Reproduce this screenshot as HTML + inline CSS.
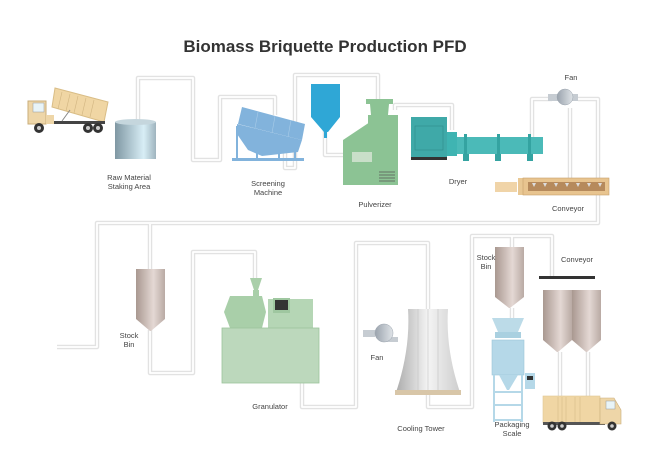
<!DOCTYPE html>
<html><head><meta charset="utf-8"><style>
html,body{margin:0;padding:0;background:#fff}
svg{display:block}
text{font-family:"Liberation Sans",sans-serif;fill:#444;font-size:7.5px}
</style></head><body>
<svg width="650" height="459" viewBox="0 0 650 459" xmlns="http://www.w3.org/2000/svg">
<defs>
<linearGradient id="tank" x1="0" x2="1"><stop offset="0" stop-color="#7f97a3"/><stop offset="0.7" stop-color="#d8eef6"/><stop offset="1" stop-color="#9fb4be"/></linearGradient>
<linearGradient id="bin" x1="0" x2="1"><stop offset="0" stop-color="#a99890"/><stop offset="0.6" stop-color="#e4d8d4"/><stop offset="1" stop-color="#b9aaa4"/></linearGradient>
<linearGradient id="tower" x1="0" x2="1"><stop offset="0" stop-color="#aaa"/><stop offset="0.5" stop-color="#f4f4f4"/><stop offset="1" stop-color="#ccc"/></linearGradient>
<linearGradient id="fan" x1="0" x2="1"><stop offset="0" stop-color="#9aa3ad"/><stop offset="1" stop-color="#e0e4e8"/></linearGradient>
</defs>
<text x="325" y="52" text-anchor="middle" style="font-size:17px;font-weight:bold;fill:#333">Biomass Briquette Production PFD</text>

<g fill="none" stroke-linejoin="round" id="pipes">
<g stroke="#e2e2e2" stroke-width="4.5">
<path d="M138 122 V78 H193 V160 H220 V97 H275 V115"/>
<path d="M285 150 V168 H295 V75 H378 V100"/>
<path d="M325 130 V155 H345"/>
<path d="M395 110 V105 H452 V130"/>
<path d="M532 137 V99 H552"/>
<path d="M578 99 H598 V223 H97 V347 H57"/>
<path d="M570 108 V180"/>
<path d="M150 224 V270"/>
<path d="M150 330 V373 H193 V252 H255 V280"/>
<path d="M302 383 V407 H356 V243 H428 V407 H472 V236 H552 V278"/>
<path d="M512 236 V248"/>
<path d="M512 308 V318"/>
<path d="M560 352 V396 M588 352 V396"/>
</g>
<g stroke="#fff" stroke-width="1.8">
<path d="M138 122 V78 H193 V160 H220 V97 H275 V115"/>
<path d="M285 150 V168 H295 V75 H378 V100"/>
<path d="M325 130 V155 H345"/>
<path d="M395 110 V105 H452 V130"/>
<path d="M532 137 V99 H552"/>
<path d="M578 99 H598 V223 H97 V347 H57"/>
<path d="M570 108 V180"/>
<path d="M150 224 V270"/>
<path d="M150 330 V373 H193 V252 H255 V280"/>
<path d="M302 383 V407 H356 V243 H428 V407 H472 V236 H552 V278"/>
<path d="M512 236 V248"/>
<path d="M512 308 V318"/>
<path d="M560 352 V396 M588 352 V396"/>
</g>
</g>

<!-- truck 1 -->
<g>
<polygon points="55,88 108,102 104,122 52,107" fill="#f0d6a4" stroke="#d9bd86"/>
<g stroke="#d2b682" stroke-width="0.6"><path d="M62 92 L58 109 M70 94 L66 111 M78 96 L74 113 M86 98 L82 115 M94 100 L90 117"/></g>
<rect x="50" y="121" width="55" height="3" fill="#444"/>
<line x1="62" y1="121" x2="70" y2="110" stroke="#888"/>
<path d="M28 101 H46 V124 H28 Z" fill="#eed6a8" stroke="#c9ad7a"/>
<rect x="33" y="103" width="11" height="9" fill="#e8f4f8" stroke="#999" stroke-width="0.5"/>
<rect x="46" y="115" width="8" height="9" fill="#eed6a8"/>
<circle cx="39" cy="128" r="5" fill="#333"/><circle cx="39" cy="128" r="2" fill="#ccc"/>
<circle cx="88" cy="128" r="5" fill="#333"/><circle cx="88" cy="128" r="2" fill="#ccc"/>
<circle cx="98" cy="128" r="5" fill="#333"/><circle cx="98" cy="128" r="2" fill="#ccc"/>
</g>
<!-- tank -->
<rect x="115" y="122" width="41" height="37" fill="url(#tank)"/>
<ellipse cx="135.5" cy="122" rx="20.5" ry="3" fill="#c5d6dd"/>

<!-- screening -->
<g fill="#82b3dc">
<polygon points="242,107 305,124 302,140 238,124"/>
<polygon points="237,124 302,140 298,152 262,156 248,150 237,134"/>
<rect x="232" y="158" width="72" height="3"/>
<rect x="236" y="126" width="2" height="33"/><rect x="256" y="150" width="2" height="9"/><rect x="278" y="152" width="2" height="7"/><rect x="294" y="148" width="2" height="11"/>
</g>
<g stroke="#a8cbe8" stroke-width="0.6"><path d="M258 112 L255 128 M275 116 L272 133 M291 120 L288 137"/></g>
<!-- blue silo -->
<rect x="311" y="84" width="29" height="33" fill="#2fa7d6"/>
<polygon points="311,117 340,117 328,132 324,132" fill="#2fa7d6"/>
<rect x="324" y="132" width="3" height="6" fill="#2fa7d6"/>
<!-- pulverizer -->
<g fill="#8cc394">
<rect x="366" y="99" width="27" height="5"/>
<polygon points="370,104 389,104 388,115 371,115"/>
<rect x="368" y="115" width="30" height="10"/>
<polygon points="343,140 370,122 398,122 398,185 343,185"/>
</g>
<rect x="352" y="152" width="20" height="10" fill="#c9dfc9"/>
<g stroke="#555" stroke-width="0.8"><path d="M379 172 H395 M379 175 H395 M379 178 H395 M379 181 H395"/></g>

<!-- dryer -->
<rect x="411" y="117" width="36" height="42" fill="#3fa9a8"/>
<rect x="415" y="126" width="28" height="24" fill="none" stroke="#2e8c8b" stroke-width="0.6"/>
<rect x="411" y="157" width="36" height="3" fill="#333"/>
<rect x="447" y="132" width="10" height="24" fill="#3fb4b2"/>
<rect x="457" y="137" width="86" height="17" fill="#4bbab8"/>
<g fill="#34a3a1"><rect x="464" y="134" width="3" height="24"/><rect x="497" y="134" width="3" height="24"/><rect x="528" y="134" width="3" height="24"/>
<rect x="463" y="154" width="6" height="7"/><rect x="495" y="154" width="6" height="7"/><rect x="527" y="154" width="6" height="7"/></g>

<!-- fan top -->
<rect x="548" y="94" width="30" height="7" fill="#c6ccd2"/>
<circle cx="565" cy="97" r="8" fill="url(#fan)" stroke="#9aa3ad" stroke-width="0.5"/>
<!-- conveyor top -->
<rect x="495" y="182" width="22" height="10" fill="#f0d4a8"/>
<rect x="518" y="178" width="10" height="17" fill="#e9c894"/>
<rect x="523" y="178" width="86" height="17" fill="#e8c48f" stroke="#c8a06a" stroke-width="0.6"/>
<rect x="528" y="182" width="77" height="9" fill="#b68a5c"/>
<g fill="#ddd"><path d="M532 183 l2 4 l2 -4 Z M543 183 l2 4 l2 -4 Z M554 183 l2 4 l2 -4 Z M565 183 l2 4 l2 -4 Z M576 183 l2 4 l2 -4 Z M587 183 l2 4 l2 -4 Z M598 183 l2 4 l2 -4 Z"/></g>

<!-- stock bin left -->
<rect x="136" y="269" width="29" height="50" fill="url(#bin)"/>
<polygon points="136,319 165,319 151,331 150,331" fill="url(#bin)"/>

<!-- granulator -->
<g fill="#a9cfa9">
<polygon points="250,278 262,278 258,290 254,290"/>
<rect x="253" y="290" width="6" height="6"/>
<polygon points="230,296 262,296 266,312 262,328 230,328 224,312"/>
</g>
<rect x="268" y="299" width="45" height="29" fill="#b5d6b5"/>
<rect x="273" y="298" width="17" height="15" fill="#9fc7a0"/>
<rect x="275" y="300" width="13" height="10" fill="#333"/>
<rect x="222" y="328" width="97" height="55" fill="#bcd8bc" stroke="#9cc49c" stroke-width="0.8"/>

<!-- cooling fan -->
<rect x="363" y="330" width="12" height="7" fill="#c6ccd2"/>
<rect x="384" y="337" width="14" height="5" fill="#c6ccd2"/>
<circle cx="384" cy="333" r="9" fill="url(#fan)" stroke="#9aa3ad" stroke-width="0.5"/>
<!-- cooling tower -->
<path d="M408 309 H448 C446 340 452 370 461 395 H395 C404 370 410 340 408 309 Z" fill="url(#tower)"/>
<g stroke="#bbb" stroke-width="0.5"><path d="M418 309 V395 M428 309 V395 M438 309 V395"/></g>
<rect x="395" y="390" width="66" height="5" fill="#d8c6a8"/>

<!-- stock bin right -->
<rect x="495" y="247" width="29" height="50" fill="url(#bin)"/>
<polygon points="495,297 524,297 510,308 509,308" fill="url(#bin)"/>
<!-- packaging scale -->
<polygon points="492,318 524,318 518,332 498,332" fill="#bcdbe8"/>
<rect x="495" y="332" width="26" height="6" fill="#a9d0e0"/>
<rect x="492" y="340" width="32" height="35" fill="#b5d8e8" stroke="#9cc6d8" stroke-width="0.6"/>
<polygon points="499,375 518,375 509,390 507,390" fill="#b5d8e8"/>
<g fill="none" stroke="#b5d8e8" stroke-width="2"><path d="M494 375 V422 M522 375 V422 M494 392 H522 M494 405 H522 M494 420 H522"/></g>
<rect x="525" y="373" width="10" height="16" fill="#b5d8e8"/>
<rect x="527" y="376" width="6" height="4" fill="#333"/>

<!-- conveyor + silos -->
<rect x="539" y="276" width="56" height="3" fill="#333"/>
<rect x="543" y="290" width="29" height="50" fill="url(#bin)"/>
<polygon points="543,340 572,340 558,352 557,352" fill="url(#bin)"/>
<rect x="572" y="290" width="29" height="50" fill="url(#bin)"/>
<polygon points="572,340 601,340 587,352 586,352" fill="url(#bin)"/>

<!-- truck 2 -->
<rect x="543" y="396" width="57" height="27" fill="#f0d6a4" stroke="#e0c694" stroke-width="0.6"/>
<g stroke="#d8bc88" stroke-width="0.6"><path d="M558 397 V422 M562 397 V422 M566 397 V422 M575 397 V422 M580 397 V422"/></g>
<rect x="543" y="422" width="62" height="3" fill="#555"/>
<path d="M600 398 H614 L621 410 V424 H600 Z" fill="#eed6a8" stroke="#c9ad7a" stroke-width="0.6"/>
<rect x="606" y="401" width="9" height="8" fill="#e8f4f8" stroke="#999" stroke-width="0.5"/>
<circle cx="552" cy="426" r="4.5" fill="#333"/><circle cx="552" cy="426" r="1.8" fill="#ccc"/>
<circle cx="562" cy="426" r="4.5" fill="#333"/><circle cx="562" cy="426" r="1.8" fill="#ccc"/>
<circle cx="612" cy="426" r="4.5" fill="#333"/><circle cx="612" cy="426" r="1.8" fill="#ccc"/>

<!-- labels -->
<g text-anchor="middle">
<text x="129" y="180">Raw Material</text><text x="129" y="189">Staking Area</text>
<text x="268" y="186">Screening</text><text x="268" y="195">Machine</text>
<text x="375" y="207">Pulverizer</text>
<text x="458" y="184">Dryer</text>
<text x="571" y="80">Fan</text>
<text x="568" y="211">Conveyor</text>
<text x="129" y="338">Stock</text><text x="129" y="347">Bin</text>
<text x="270" y="409">Granulator</text>
<text x="377" y="360">Fan</text>
<text x="421" y="431">Cooling Tower</text>
<text x="486" y="260">Stock</text><text x="486" y="269">Bin</text>
<text x="577" y="262">Conveyor</text>
<text x="512" y="427">Packaging</text><text x="512" y="436">Scale</text>
</g>
</svg>
</body></html>
